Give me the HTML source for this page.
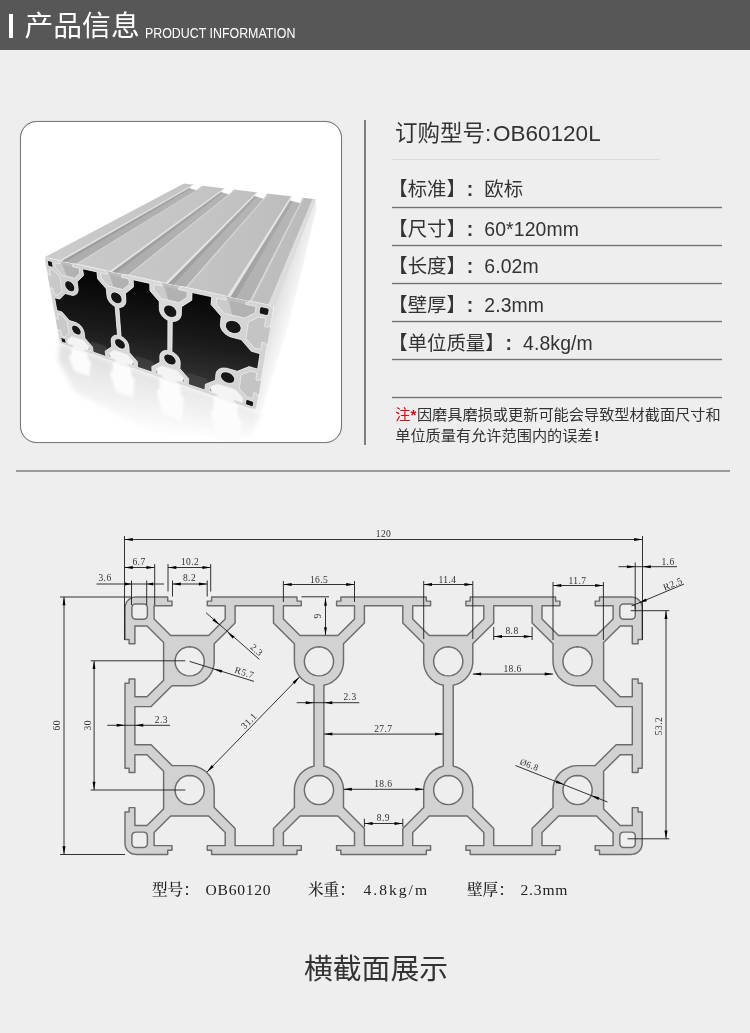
<!DOCTYPE html>
<html lang="zh-CN"><head><meta charset="utf-8"><title>产品信息 OB60120L</title>
<style>
html,body{margin:0;padding:0}
html{background:#eeeeee}
body{width:750px;height:1033px;position:relative;overflow:hidden;will-change:transform;font-family:"Liberation Sans","Noto Sans CJK SC",sans-serif;color:#333}
.abs{position:absolute}
.hdr{left:0;top:0;width:750px;height:50px;background:#575757}
.bar{left:9px;top:14px;width:4px;height:24px;background:#fff}
.h1{left:24.5px;top:6.3px;font-size:28.8px;line-height:40px;color:#fff;font-weight:400;white-space:nowrap}
.h2{left:145px;top:22.5px;font-size:14.5px;line-height:20px;color:#fff;white-space:nowrap;transform-origin:0 50%;transform:scaleX(0.855)}
.card{left:20px;top:121px;width:320px;height:320px;border:1px solid #787878;border-radius:17px;background:#fff;overflow:hidden;box-shadow:0 0 0.8px rgba(0,0,0,.45)}
.vr{left:364px;top:120px;width:1.5px;height:325px;background:#7e7e7e}
.ttl{left:395px;top:118px;font-size:22.5px;line-height:32px;white-space:nowrap;font-weight:400;color:#333}
.ttl span{margin-left:1.8px}
.hr0{left:392px;top:159px;width:268px;height:1px;background:#dcdcdc}
.row{left:388.3px;font-size:19.4px;line-height:28px;white-space:nowrap;font-weight:400;color:#333}
.row i{font-style:normal;display:inline-block;width:1em}
.row u{text-decoration:none;display:inline-block;width:18.4px;text-indent:0.8px;font-weight:700}
.row s{text-decoration:none;letter-spacing:0.12px}
.hr{left:392px;width:330.4px;height:3px;background:linear-gradient(to bottom,#d9d9d9 0 1px,#717171 1px 2px,#d4d4d4 2px 3px)}
.note{left:395.2px;top:403.5px;width:340px;font-size:15.2px;line-height:21.5px;color:#333;white-space:nowrap}
.note b{color:#e60012;font-weight:400}
.note b i{font-style:normal;font-weight:700;margin-right:0.6px}
.note em{font-style:normal;font-weight:700;margin-left:1.5px}
.sep{left:16px;top:469.5px;width:714px;height:2px;background:#9a9a9a}
.cap{top:879px;font-family:"Liberation Serif","Noto Serif CJK SC",serif;font-size:15.6px;line-height:22px;color:#222;white-space:nowrap;font-weight:500}
.foot{left:0;width:752px;top:948.5px;text-align:center;font-size:28.8px;line-height:40px;font-weight:400;color:#333}
</style></head><body>
<div class="abs hdr"></div><div class="abs bar"></div>
<div class="abs h1">产品信息</div><div class="abs h2">PRODUCT INFORMATION</div>
<div class="abs card"><svg class="abs" style="left:0;top:0" width="320" height="320" viewBox="21 122 320 320"><defs>
<linearGradient id="gTop" gradientUnits="userSpaceOnUse" x1="60" y1="250" x2="310" y2="230"><stop offset="0" stop-color="#cbcbcb"/><stop offset="0.55" stop-color="#c1c1c1"/><stop offset="1" stop-color="#b3b3b3"/></linearGradient>
<linearGradient id="gFade" gradientUnits="userSpaceOnUse" x1="120" y1="270" x2="250" y2="190"><stop offset="0" stop-color="#fff" stop-opacity="0"/><stop offset="1" stop-color="#fff" stop-opacity="0.10"/></linearGradient>
<linearGradient id="gSide" gradientUnits="userSpaceOnUse" x1="270" y1="300" x2="296" y2="308"><stop offset="0" stop-color="#d6d6d6"/><stop offset="0.45" stop-color="#e8e8e8"/><stop offset="1" stop-color="#fcfcfc"/></linearGradient>
<linearGradient id="gDark" gradientUnits="userSpaceOnUse" x1="150" y1="285" x2="135" y2="385"><stop offset="0" stop-color="#060606"/><stop offset="0.5" stop-color="#1b1b1b"/><stop offset="1" stop-color="#3a3a3a"/></linearGradient>
<linearGradient id="gRef" gradientUnits="userSpaceOnUse" x1="150" y1="370" x2="140" y2="432"><stop offset="0" stop-color="#e2e2e2"/><stop offset="1" stop-color="#ffffff"/></linearGradient>
<filter id="bl2"><feGaussianBlur stdDeviation="0.8"/></filter>
<filter id="bl" x="-10%" y="-10%" width="120%" height="120%"><feGaussianBlur stdDeviation="2.5"/></filter>
<linearGradient id="gMat" gradientUnits="userSpaceOnUse" x1="50" y1="300" x2="270" y2="350"><stop offset="0" stop-color="#cfcfcf"/><stop offset="0.5" stop-color="#dadada"/><stop offset="1" stop-color="#d2d2d2"/></linearGradient>
</defs>
<polygon points="60.0,343.3 256.0,410.5 261.0,414.0 250.0,436.0 150.0,432.0 75.0,392.0 58.0,360.0" fill="url(#gRef)" filter="url(#bl)"/>
<polygon points="71.4,347.2 87.3,352.7 88.3,360.1 91.3,361.6 89.3,376.6 74.4,371.1 68.4,356.2 71.4,354.7" fill="#fcfcfc" filter="url(#bl2)"/>
<polygon points="112.7,361.4 130.7,367.5 131.7,377.0 134.7,378.9 132.7,397.7 115.7,391.5 109.7,372.7 112.7,370.8" fill="#fcfcfc" filter="url(#bl2)"/>
<polygon points="159.6,377.4 180.2,384.5 181.2,395.9 184.2,398.2 182.2,420.9 162.6,413.8 156.6,391.1 159.6,388.8" fill="#fcfcfc" filter="url(#bl2)"/>
<polygon points="213.4,395.9 237.2,404.0 238.2,417.4 241.2,420.0 239.2,446.7 216.4,438.5 210.4,411.9 213.4,409.2" fill="#fcfcfc" filter="url(#bl2)"/>
<polygon points="274.0,306.0 315.5,199.3 316.3,209.0 289.0,324.0 262.0,411.5 256.0,410.5" fill="url(#gSide)" />
<polygon points="44.4,257.3 274.0,306.0 315.5,199.3 184.0,183.5" fill="url(#gTop)" />
<polygon points="61.6,261.0 75.8,264.0 203.6,185.9 194.8,184.8" fill="#adadad" />
<polygon points="61.6,261.0 65.6,261.8 197.3,185.1 194.8,184.8" fill="#9d9d9d" />
<polygon points="59.2,260.4 61.6,261.0 194.8,184.8 193.3,184.6" fill="#e3e3e3" />
<polygon points="75.8,264.0 77.1,264.2 204.4,185.9 203.6,185.9" fill="#d6d6d6" />
<polygon points="194.8,183.8 203.6,184.9 196.3,190.3 189.1,188.0" fill="#fdfdfd" />
<polygon points="112.2,271.7 127.9,275.0 234.9,189.6 225.6,188.5" fill="#adadad" />
<polygon points="112.2,271.7 116.7,272.6 228.3,188.8 225.6,188.5" fill="#9d9d9d" />
<polygon points="109.6,271.1 112.2,271.7 225.6,188.5 224.0,188.3" fill="#e3e3e3" />
<polygon points="127.9,275.0 129.3,275.3 235.7,189.7 234.9,189.6" fill="#d6d6d6" />
<polygon points="225.6,187.5 234.9,188.6 228.9,194.4 220.9,192.0" fill="#fdfdfd" />
<polygon points="168.2,283.6 185.6,287.3 267.9,193.6 258.1,192.4" fill="#adadad" />
<polygon points="168.2,283.6 173.2,284.6 260.9,192.7 258.1,192.4" fill="#9d9d9d" />
<polygon points="165.3,282.9 168.2,283.6 258.1,192.4 256.5,192.2" fill="#e3e3e3" />
<polygon points="185.6,287.3 187.2,287.6 268.8,193.7 267.9,193.6" fill="#d6d6d6" />
<polygon points="258.1,191.4 267.9,192.6 263.4,198.7 254.5,196.1" fill="#fdfdfd" />
<polygon points="230.5,296.8 249.9,300.9 302.9,197.8 292.5,196.5" fill="#adadad" />
<polygon points="230.5,296.8 236.1,298.0 295.5,196.9 292.5,196.5" fill="#9d9d9d" />
<polygon points="227.3,296.1 230.5,296.8 292.5,196.5 290.8,196.3" fill="#e3e3e3" />
<polygon points="249.9,300.9 251.8,301.3 303.9,197.9 302.9,197.8" fill="#d6d6d6" />
<polygon points="292.5,195.5 302.9,196.8 300.1,203.3 290.1,200.5" fill="#fdfdfd" />
<polygon points="268.1,304.8 274.0,306.0 315.5,199.3 312.4,198.9" fill="#d9d9d9" />
<polygon points="44.4,257.3 274.0,306.0 315.5,199.3 184.0,183.5" fill="url(#gFade)" />
<polygon points="44.9,257.9 273.1,306.5 255.5,409.6 60.3,342.8" fill="#bdbdbd" />
<polygon points="74.0,348.7 73.5,345.4 68.1,343.6 67.4,339.7 71.7,336.4 83.5,340.2 89.5,347.1 90.0,351.0 84.4,349.1 84.8,352.4" fill="#f4f4f4" />
<polygon points="54.5,262.6 55.4,267.7 61.9,275.2 74.8,278.2 79.8,273.2 79.1,268.0" fill="#b2b2b2" />
<polygon points="54.5,262.6 55.4,267.7 61.9,275.2 66.8,276.3 62.1,264.3" fill="#cbcbcb" />
<polygon points="115.5,363.0 115.2,359.5 109.1,357.5 108.7,353.5 113.9,350.1 127.4,354.5 133.8,361.8 134.0,365.9 127.6,363.7 127.8,367.2" fill="#f4f4f4" />
<polygon points="100.6,272.7 101.2,278.0 108.1,286.0 123.0,289.5 129.3,284.3 129.0,278.8" fill="#b2b2b2" />
<polygon points="100.6,272.7 101.2,278.0 108.1,286.0 113.8,287.4 109.4,274.6" fill="#cbcbcb" />
<polygon points="162.8,379.2 162.8,375.7 155.8,373.3 155.7,369.1 162.2,365.9 177.6,370.9 184.4,378.7 184.3,383.0 176.9,380.5 176.8,384.1" fill="#f4f4f4" />
<polygon points="154.1,284.3 154.2,289.9 161.7,298.6 179.0,302.6 187.1,297.3 187.3,291.5" fill="#b2b2b2" />
<polygon points="154.1,284.3 154.2,289.9 161.7,298.6 168.3,300.1 164.3,286.5" fill="#cbcbcb" />
<polygon points="217.0,397.9 217.3,394.2 209.3,391.4 209.7,387.1 217.7,384.0 235.6,389.8 242.9,398.2 242.2,402.6 233.7,399.7 233.2,403.4" fill="#f4f4f4" />
<polygon points="216.7,297.9 216.3,303.9 224.3,313.3 244.8,318.1 255.2,312.7 256.1,306.4" fill="#b2b2b2" />
<polygon points="216.7,297.9 216.3,303.9 224.3,313.3 232.1,315.1 228.8,300.5" fill="#cbcbcb" />
<polygon points="47.6,274.7 50.7,275.5 49.6,268.9 53.5,269.8 60.0,277.3 62.2,290.9 57.8,295.3 54.0,294.3 52.9,288.1 49.8,287.3" fill="#c9c9c9" />
<polygon points="270.2,328.0 264.5,326.6 265.8,318.5 258.8,316.9 248.3,322.2 246.1,338.6 254.1,347.9 260.7,349.6 261.9,342.1 267.5,343.6" fill="#c4c4c4" />
<polygon points="55.5,318.4 58.5,319.3 57.5,313.6 61.2,314.7 67.2,321.6 69.1,333.5 64.9,336.9 61.4,335.7 60.4,330.3 57.5,329.3" fill="#c9c9c9" />
<polygon points="261.0,381.2 255.8,379.7 256.9,372.9 250.6,371.0 241.2,374.7 239.4,388.4 246.7,396.9 252.7,398.9 253.7,392.6 258.8,394.2" fill="#c4c4c4" />
<path d="M82.7,268.8 96.9,271.9 97.6,278.8 106.3,288.8 106.9,295.6 107.1,296.9 107.5,298.2 108,299.5 108.7,300.7 109.5,301.9 110.5,303.1 111.5,304.1 112.7,305 113.9,305.8 115.1,306.5 117.5,335.3 116.4,335.2 115.3,335.3 114.3,335.6 113.4,336 112.7,336.6 112.1,337.3 111.6,338.1 111.3,339 111.2,340 111.2,341.1 111.7,346.8 105.2,351.1 105.8,356.4 93.2,352.1 92.5,346.9 84.9,338.2 84.2,332.6 83.9,331.4 83.4,330.1 82.8,328.8 82,327.5 81.1,326.3 80,325.2 78.8,324.2 77.6,323.4 76.4,322.8 75.1,322.3 69.5,320.6 61.9,311.9 56.9,310.4 54.6,297.7 59.7,299 65.2,293.6 71,295.1 72.3,295.4 73.5,295.4 74.6,295.1 75.6,294.7 76.5,294.1 77.2,293.2 77.7,292.2 78,291.1 78.2,289.8 78.1,288.4 77.2,281.8 83.5,275.6ZM133.2,279.8 149.7,283.4 149.9,290.7 159.2,301.4 159.3,308.6 159.4,310 159.7,311.3 160.2,312.7 160.9,314.1 161.8,315.4 162.8,316.6 163.9,317.7 165.2,318.7 166.5,319.6 167.9,320.3 167.8,350.5 166.5,350.4 165.2,350.5 164,350.7 163,351.2 162,351.7 161.2,352.4 160.6,353.3 160.2,354.2 159.9,355.3 159.8,356.4 159.9,362.3 151.8,366.5 152,372.1 137.6,367.2 137.4,361.7 129.3,352.5 128.9,346.7 128.7,345.5 128.4,344.3 127.9,343.2 127.3,342 126.5,340.8 125.6,339.7 124.6,338.7 123.5,337.8 122.3,337 121.1,336.4 118.9,307.5 120.1,307.5 121.3,307.3 122.3,306.9 123.3,306.4 124.1,305.7 124.8,304.8 125.4,303.9 125.7,302.8 125.9,301.6 125.9,300.3 125.5,293.4 133.5,287ZM211,304.6 221.1,316.2 220.4,323.8 220.4,325.5 220.7,327.2 221.3,328.8 222.2,330.5 223.4,332 224.8,333.4 226.4,334.7 228.2,335.8 230,336.7 232,337.3 241.3,339.7 251.3,351.3 260,353.7 257.6,369.1 249.1,366.6 237.3,371.3 228.6,368.7 226.7,368.2 224.8,368 223,368 221.4,368.3 219.9,368.8 218.6,369.5 217.5,370.4 216.7,371.4 216.2,372.7 215.9,374 215.4,380.2 205.3,384.3 204.9,390 188.4,384.4 188.7,378.7 180,368.8 180.2,362.8 180.1,361.6 179.9,360.3 179.4,359.1 178.8,357.8 178,356.6 177,355.4 175.9,354.4 174.7,353.4 173.4,352.5 172,351.8 172.3,321.5 173.7,321.5 175.1,321.3 176.4,321 177.6,320.4 178.7,319.7 179.6,318.9 180.3,317.8 180.9,316.7 181.2,315.4 181.4,314.1 181.5,306.8 191.8,300.2 192.1,292.6 211.6,296.8Z" fill="url(#gDark)"/>
<polygon points="88.2,349.9 110.9,357.6 105.5,346.0 91.1,341.3" fill="#4a4a4a" opacity="0.55"/>
<polygon points="132.0,364.7 157.9,373.4 152.6,361.3 136.2,356.0" fill="#4a4a4a" opacity="0.55"/>
<polygon points="182.1,381.6 211.8,391.7 206.8,378.8 187.9,372.7" fill="#4a4a4a" opacity="0.55"/>
<path d="M74.7,287.5 74.7,288.7 74.5,289.7 74.1,290.6 73.4,291.2 72.6,291.6 71.6,291.7 70.5,291.6 69.4,291.2 68.3,290.5 67.3,289.7 66.4,288.6 65.7,287.5 65.1,286.3 64.8,285.1 64.8,283.9 65,282.9 65.4,282 66,281.4 66.8,280.9 67.8,280.8 68.9,280.9 70,281.3 71.1,282 72.2,282.9 73.1,283.9 73.8,285.1 74.4,286.3ZM81,331.6 81,332.6 80.8,333.5 80.4,334.2 79.7,334.7 78.9,334.9 78,335 77,334.7 76,334.3 74.9,333.7 74,332.8 73.1,331.9 72.5,330.8 72,329.8 71.7,328.7 71.7,327.7 71.8,326.8 72.3,326.1 72.9,325.6 73.7,325.3 74.6,325.3 75.6,325.5 76.7,325.9 77.7,326.6 78.7,327.4 79.5,328.4 80.2,329.4 80.7,330.5ZM122,299.3 121.9,300.5 121.6,301.6 121,302.5 120.2,303.2 119.1,303.5 118,303.7 116.7,303.5 115.5,303 114.3,302.3 113.2,301.4 112.2,300.3 111.4,299.1 110.9,297.8 110.7,296.5 110.7,295.3 111,294.2 111.6,293.3 112.4,292.6 113.4,292.2 114.6,292.1 115.8,292.2 117.1,292.7 118.4,293.4 119.5,294.3 120.5,295.5 121.3,296.7 121.8,298ZM125.3,345.5 125.2,346.6 124.9,347.5 124.3,348.2 123.5,348.7 122.6,348.9 121.5,348.9 120.3,348.6 119.1,348.1 118,347.4 117,346.6 116.1,345.5 115.4,344.4 114.9,343.3 114.7,342.2 114.7,341.2 115,340.3 115.6,339.5 116.3,339 117.3,338.8 118.4,338.7 119.6,339 120.8,339.5 121.9,340.2 123,341.1 123.9,342.1 124.6,343.2 125.1,344.4ZM176.8,313 176.6,314.2 176.1,315.4 175.3,316.3 174.2,317 173,317.3 171.6,317.4 170.1,317.2 168.7,316.7 167.3,315.9 166.1,314.9 165.1,313.7 164.3,312.4 163.8,311 163.6,309.7 163.8,308.4 164.3,307.3 165,306.3 166.1,305.6 167.3,305.2 168.7,305.1 170.2,305.3 171.7,305.8 173.1,306.6 174.3,307.6 175.4,308.9 176.2,310.2 176.7,311.6ZM176,361.4 175.8,362.5 175.3,363.4 174.6,364.2 173.6,364.6 172.5,364.9 171.2,364.8 169.8,364.5 168.5,364 167.2,363.2 166.1,362.2 165.2,361.2 164.5,360 164,358.8 163.9,357.6 164,356.6 164.4,355.6 165.2,354.9 166.1,354.4 167.3,354.1 168.5,354.2 169.9,354.4 171.3,355 172.6,355.8 173.7,356.7 174.7,357.9 175.4,359.1 175.9,360.3ZM241,328.9 240.6,330.3 239.9,331.5 238.8,332.4 237.4,333.1 235.9,333.4 234.2,333.5 232.5,333.2 230.8,332.6 229.2,331.7 227.9,330.6 226.8,329.4 226,328 225.5,326.5 225.5,325.1 225.8,323.7 226.5,322.6 227.5,321.6 228.9,320.9 230.4,320.5 232.1,320.4 233.9,320.7 235.6,321.2 237.2,322.1 238.6,323.2 239.7,324.6 240.5,326 241,327.5ZM234.7,379.9 234.3,381 233.7,381.9 232.7,382.7 231.5,383.1 230.1,383.3 228.6,383.2 227,382.9 225.5,382.2 224,381.4 222.8,380.3 221.8,379.2 221,377.9 220.6,376.7 220.6,375.4 220.9,374.3 221.5,373.4 222.4,372.6 223.6,372.1 225,371.9 226.6,372 228.2,372.3 229.7,373 231.2,373.8 232.5,374.9 233.5,376.1 234.2,377.4 234.6,378.6ZM47.4,261.9 47.4,261.3 47.6,260.9 47.9,260.7 48.4,260.7 50.9,261.2 51.4,261.4 51.9,261.9 52.2,262.4 52.4,263 52.9,265.9 52.9,266.5 52.7,266.9 52.4,267.1 51.9,267.1 49.4,266.5 48.9,266.3 48.4,265.9 48.1,265.4 47.9,264.8ZM259.8,308.3 260.1,307.6 260.7,307.1 261.5,306.9 262.4,306.9 267,307.9 267.8,308.3 268.5,308.8 268.9,309.5 269,310.3 268.4,313.9 268.1,314.6 267.5,315.1 266.7,315.3 265.8,315.3 261.2,314.2 260.4,313.9 259.7,313.3 259.3,312.6 259.2,311.9ZM61,338.5 61,338.1 61.2,337.8 61.5,337.7 62,337.8 64.3,338.5 64.7,338.8 65.1,339.2 65.5,339.6 65.6,340.1 66,342.4 66,342.8 65.8,343.1 65.5,343.2 65.1,343.1 62.8,342.4 62.3,342.1 61.9,341.8 61.6,341.3 61.4,340.8ZM246,400.5 246.2,400 246.7,399.7 247.3,399.6 248.1,399.8 251.9,401 252.6,401.4 253.2,401.9 253.6,402.5 253.6,403 253.2,405.7 253,406.1 252.5,406.4 251.8,406.5 251.1,406.4 247.3,405.1 246.5,404.7 246,404.2 245.6,403.7 245.6,403.1Z" fill="#161616"/>
<path d="M45.1,261.4 45.1,260.4 45.2,259.4 45.6,258.7 46.2,258.2 47,258 47.9,258 58.5,260.3 58.8,261.9 60.2,262.2 60.5,264 54.5,262.7 55.4,267.7 61.9,275.2 74.8,278.2 79.8,273.2 79.1,268.1 72.7,266.7 72.5,264.8 74,265.1 73.8,263.5 105.5,270.3 105.7,271.9 107.4,272.3 107.6,274.2 100.6,272.7 101.2,278 108.1,286 123,289.5 129.3,284.3 129,278.9 121.7,277.3 121.5,275.3 123.3,275.7 123.2,274 160.2,281.9 160.2,283.6 162.1,284.1 162.2,286.1 154.1,284.4 154.2,289.9 161.7,298.6 179,302.6 187.1,297.3 187.3,291.6 178.6,289.7 178.7,287.6 180.7,288 180.8,286.2 224.3,295.5 224.2,297.4 226.5,297.9 226.3,300 216.7,298 216.3,303.9 224.3,313.3 244.8,318.1 255.2,312.7 256,306.5 245.8,304.3 246.1,302.1 248.5,302.6 248.8,300.7 267.5,304.6 269.1,305.2 270.6,306 271.8,307.1 272.7,308.4 273.1,309.8 273.1,311.2 270.5,326 268.1,325.5 267.8,327.4 264.5,326.6 265.8,318.5 258.8,316.9 248.3,322.2 246.1,338.6 254.1,347.9 260.7,349.6 261.9,342.1 265.2,343 264.9,344.8 267.2,345.4 261.3,379.6 259.2,379 258.9,380.6 255.8,379.7 256.9,372.9 250.6,371 241.2,374.7 239.4,388.4 246.7,396.9 252.7,398.9 253.7,392.6 256.7,393.5 256.5,395.1 258.5,395.7 256.6,406.8 256.3,407.7 255.6,408.4 254.6,408.9 253.4,409.1 252.1,409 250.7,408.7 235.3,403.4 235.5,402.1 233.5,401.4 233.7,399.8 242.2,402.7 242.9,398.2 235.6,389.8 217.7,384 209.7,387.1 209.3,391.5 217.3,394.2 217.2,395.8 215.2,395.1 215.1,396.5 178.6,384 178.6,382.6 176.9,382 176.9,380.5 184.3,383 184.4,378.7 177.6,370.9 162.2,365.9 155.7,369.1 155.8,373.4 162.8,375.7 162.8,377.2 161.1,376.7 161.1,378 129.3,367.1 129.2,365.8 127.7,365.3 127.6,363.8 134,366 133.8,361.8 127.4,354.5 113.9,350.1 108.7,353.5 109.1,357.5 115.2,359.6 115.4,361.1 113.9,360.6 114,361.8 86.1,352.2 85.9,351 84.6,350.6 84.4,349.1 90,351.1 89.5,347.1 83.5,340.2 71.7,336.4 67.4,339.7 68.1,343.6 73.5,345.5 73.7,346.9 72.4,346.4 72.6,347.6 63.1,344.4 62.3,344 61.5,343.4 60.7,342.7 60.1,341.9 59.7,341 59.4,340.2 57.7,330.7 58.9,331 58.7,329.7 60.4,330.3 61.4,335.7 64.9,336.9 69.1,333.5 67.2,321.6 61.2,314.7 57.5,313.6 58.5,319.3 56.7,318.8 56.5,317.4 55.2,317 50.1,288.8 51.4,289.1 51.1,287.6 52.9,288.1 54,294.3 57.8,295.3 62.2,290.9 60,277.3 53.5,269.8 49.6,268.9 50.7,275.5 48.9,275.1 48.6,273.5 47.3,273.2ZM82.7,268.8 96.9,271.9 97.6,278.8 106.3,288.8 106.9,295.6 107.1,296.9 107.5,298.2 108,299.5 108.7,300.7 109.5,301.9 110.5,303.1 111.5,304.1 112.7,305 113.9,305.8 115.1,306.5 117.5,335.3 116.4,335.2 115.3,335.3 114.3,335.6 113.4,336 112.7,336.6 112.1,337.3 111.6,338.1 111.3,339 111.2,340 111.2,341.1 111.7,346.8 105.2,351.1 105.8,356.4 93.2,352.1 92.5,346.9 84.9,338.2 84.2,332.6 83.9,331.4 83.4,330.1 82.8,328.8 82,327.5 81.1,326.3 80,325.2 78.8,324.2 77.6,323.4 76.4,322.8 75.1,322.3 69.5,320.6 61.9,311.9 56.9,310.4 54.6,297.7 59.7,299 65.2,293.6 71,295.1 72.3,295.4 73.5,295.4 74.6,295.1 75.6,294.7 76.5,294.1 77.2,293.2 77.7,292.2 78,291.1 78.2,289.8 78.1,288.4 77.2,281.8 83.5,275.6ZM133.2,279.8 149.7,283.4 149.9,290.7 159.2,301.4 159.3,308.6 159.4,310 159.7,311.3 160.2,312.7 160.9,314.1 161.8,315.4 162.8,316.6 163.9,317.7 165.2,318.7 166.5,319.6 167.9,320.3 167.8,350.5 166.5,350.4 165.2,350.5 164,350.7 163,351.2 162,351.7 161.2,352.4 160.6,353.3 160.2,354.2 159.9,355.3 159.8,356.4 159.9,362.3 151.8,366.5 152,372.1 137.6,367.2 137.4,361.7 129.3,352.5 128.9,346.7 128.7,345.5 128.4,344.3 127.9,343.2 127.3,342 126.5,340.8 125.6,339.7 124.6,338.7 123.5,337.8 122.3,337 121.1,336.4 118.9,307.5 120.1,307.5 121.3,307.3 122.3,306.9 123.3,306.4 124.1,305.7 124.8,304.8 125.4,303.9 125.7,302.8 125.9,301.6 125.9,300.3 125.5,293.4 133.5,287ZM211,304.6 221.1,316.2 220.4,323.8 220.4,325.5 220.7,327.2 221.3,328.8 222.2,330.5 223.4,332 224.8,333.4 226.4,334.7 228.2,335.8 230,336.7 232,337.3 241.3,339.7 251.3,351.3 260,353.7 257.6,369.1 249.1,366.6 237.3,371.3 228.6,368.7 226.7,368.2 224.8,368 223,368 221.4,368.3 219.9,368.8 218.6,369.5 217.5,370.4 216.7,371.4 216.2,372.7 215.9,374 215.4,380.2 205.3,384.3 204.9,390 188.4,384.4 188.7,378.7 180,368.8 180.2,362.8 180.1,361.6 179.9,360.3 179.4,359.1 178.8,357.8 178,356.6 177,355.4 175.9,354.4 174.7,353.4 173.4,352.5 172,351.8 172.3,321.5 173.7,321.5 175.1,321.3 176.4,321 177.6,320.4 178.7,319.7 179.6,318.9 180.3,317.8 180.9,316.7 181.2,315.4 181.4,314.1 181.5,306.8 191.8,300.2 192.1,292.6 211.6,296.8ZM74.7,287.5 74.7,288.7 74.5,289.7 74.1,290.6 73.4,291.2 72.6,291.6 71.6,291.7 70.5,291.6 69.4,291.2 68.3,290.5 67.3,289.7 66.4,288.6 65.7,287.5 65.1,286.3 64.8,285.1 64.8,283.9 65,282.9 65.4,282 66,281.4 66.8,280.9 67.8,280.8 68.9,280.9 70,281.3 71.1,282 72.2,282.9 73.1,283.9 73.8,285.1 74.4,286.3ZM81,331.6 81,332.6 80.8,333.5 80.4,334.2 79.7,334.7 78.9,334.9 78,335 77,334.7 76,334.3 74.9,333.7 74,332.8 73.1,331.9 72.5,330.8 72,329.8 71.7,328.7 71.7,327.7 71.8,326.8 72.3,326.1 72.9,325.6 73.7,325.3 74.6,325.3 75.6,325.5 76.7,325.9 77.7,326.6 78.7,327.4 79.5,328.4 80.2,329.4 80.7,330.5ZM122,299.3 121.9,300.5 121.6,301.6 121,302.5 120.2,303.2 119.1,303.5 118,303.7 116.7,303.5 115.5,303 114.3,302.3 113.2,301.4 112.2,300.3 111.4,299.1 110.9,297.8 110.7,296.5 110.7,295.3 111,294.2 111.6,293.3 112.4,292.6 113.4,292.2 114.6,292.1 115.8,292.2 117.1,292.7 118.4,293.4 119.5,294.3 120.5,295.5 121.3,296.7 121.8,298ZM125.3,345.5 125.2,346.6 124.9,347.5 124.3,348.2 123.5,348.7 122.6,348.9 121.5,348.9 120.3,348.6 119.1,348.1 118,347.4 117,346.6 116.1,345.5 115.4,344.4 114.9,343.3 114.7,342.2 114.7,341.2 115,340.3 115.6,339.5 116.3,339 117.3,338.8 118.4,338.7 119.6,339 120.8,339.5 121.9,340.2 123,341.1 123.9,342.1 124.6,343.2 125.1,344.4ZM176.8,313 176.6,314.2 176.1,315.4 175.3,316.3 174.2,317 173,317.3 171.6,317.4 170.1,317.2 168.7,316.7 167.3,315.9 166.1,314.9 165.1,313.7 164.3,312.4 163.8,311 163.6,309.7 163.8,308.4 164.3,307.3 165,306.3 166.1,305.6 167.3,305.2 168.7,305.1 170.2,305.3 171.7,305.8 173.1,306.6 174.3,307.6 175.4,308.9 176.2,310.2 176.7,311.6ZM176,361.4 175.8,362.5 175.3,363.4 174.6,364.2 173.6,364.6 172.5,364.9 171.2,364.8 169.8,364.5 168.5,364 167.2,363.2 166.1,362.2 165.2,361.2 164.5,360 164,358.8 163.9,357.6 164,356.6 164.4,355.6 165.2,354.9 166.1,354.4 167.3,354.1 168.5,354.2 169.9,354.4 171.3,355 172.6,355.8 173.7,356.7 174.7,357.9 175.4,359.1 175.9,360.3ZM241,328.9 240.6,330.3 239.9,331.5 238.8,332.4 237.4,333.1 235.9,333.4 234.2,333.5 232.5,333.2 230.8,332.6 229.2,331.7 227.9,330.6 226.8,329.4 226,328 225.5,326.5 225.5,325.1 225.8,323.7 226.5,322.6 227.5,321.6 228.9,320.9 230.4,320.5 232.1,320.4 233.9,320.7 235.6,321.2 237.2,322.1 238.6,323.2 239.7,324.6 240.5,326 241,327.5ZM234.7,379.9 234.3,381 233.7,381.9 232.7,382.7 231.5,383.1 230.1,383.3 228.6,383.2 227,382.9 225.5,382.2 224,381.4 222.8,380.3 221.8,379.2 221,377.9 220.6,376.7 220.6,375.4 220.9,374.3 221.5,373.4 222.4,372.6 223.6,372.1 225,371.9 226.6,372 228.2,372.3 229.7,373 231.2,373.8 232.5,374.9 233.5,376.1 234.2,377.4 234.6,378.6ZM47.4,261.9 47.4,261.3 47.6,260.9 47.9,260.7 48.4,260.7 50.9,261.2 51.4,261.4 51.9,261.9 52.2,262.4 52.4,263 52.9,265.9 52.9,266.5 52.7,266.9 52.4,267.1 51.9,267.1 49.4,266.5 48.9,266.3 48.4,265.9 48.1,265.4 47.9,264.8ZM259.8,308.3 260.1,307.6 260.7,307.1 261.5,306.9 262.4,306.9 267,307.9 267.8,308.3 268.5,308.8 268.9,309.5 269,310.3 268.4,313.9 268.1,314.6 267.5,315.1 266.7,315.3 265.8,315.3 261.2,314.2 260.4,313.9 259.7,313.3 259.3,312.6 259.2,311.9ZM61,338.5 61,338.1 61.2,337.8 61.5,337.7 62,337.8 64.3,338.5 64.7,338.8 65.1,339.2 65.5,339.6 65.6,340.1 66,342.4 66,342.8 65.8,343.1 65.5,343.2 65.1,343.1 62.8,342.4 62.3,342.1 61.9,341.8 61.6,341.3 61.4,340.8ZM246,400.5 246.2,400 246.7,399.7 247.3,399.6 248.1,399.8 251.9,401 252.6,401.4 253.2,401.9 253.6,402.5 253.6,403 253.2,405.7 253,406.1 252.5,406.4 251.8,406.5 251.1,406.4 247.3,405.1 246.5,404.7 246,404.2 245.6,403.7 245.6,403.1Z" fill="url(#gMat)" fill-rule="evenodd" stroke="#f2f2f2" stroke-width="0.7" stroke-linejoin="round"/></svg></div>
<div class="abs vr"></div>
<div class="abs ttl">订购型号:<span>OB60120L</span></div>
<div class="abs hr0"></div>
<div class="abs row" style="top:175.2px"><i>【</i>标准<i>】</i><u>:</u>欧标</div><div class="abs hr" style="top:206px"></div>
<div class="abs row" style="top:214.8px"><i>【</i>尺寸<i>】</i><u>:</u><s>60*120mm</s></div><div class="abs hr" style="top:244px"></div>
<div class="abs row" style="top:252px"><i>【</i>长度<i>】</i><u>:</u><s>6.02m</s></div><div class="abs hr" style="top:282px"></div>
<div class="abs row" style="top:291px"><i>【</i>壁厚<i>】</i><u>:</u><s>2.3mm</s></div><div class="abs hr" style="top:320px"></div>
<div class="abs row" style="top:328.6px"><i>【</i>单位质量<i>】</i><u>:</u><s>4.8kg/m</s></div><div class="abs hr" style="top:358px"></div>
<div class="abs hr" style="top:396px"></div>
<div class="abs note"><b>注<i>*</i></b>因磨具磨损或更新可能会导致型材截面尺寸和<br>单位质量有允许范围内的误差<em>!</em></div>
<div class="abs sep"></div>
<svg class="abs" style="left:0;top:500px" width="750" height="380" viewBox="0 500 750 380" font-family="'Liberation Serif','Noto Serif CJK SC',serif" fill="#303030">
<path d="M125,607.7 125.4,604.9 126.4,602.4 128.2,600.1 130.4,598.4 133,597.4 135.8,597 167.7,597 167.7,601.1 172,601.1 172,605.8 154.1,605.8 154.1,618.9 170.7,635.4 208.6,635.4 225.2,618.9 225.2,605.8 207.3,605.8 207.3,601.1 211.6,601.1 211.6,597 297,597 297,601.1 301.3,601.1 301.3,605.8 283.4,605.8 283.4,618.9 300,635.4 337.9,635.4 354.5,618.9 354.5,605.8 336.6,605.8 336.6,601.1 340.9,601.1 340.9,597 426.3,597 426.3,601.1 430.6,601.1 430.6,605.8 412.7,605.8 412.7,618.9 429.3,635.4 467.2,635.4 483.8,618.9 483.8,605.8 465.9,605.8 465.9,601.1 470.2,601.1 470.2,597 555.6,597 555.6,601.1 559.9,601.1 559.9,605.8 542,605.8 542,618.9 558.6,635.4 596.5,635.4 613.1,618.9 613.1,605.8 595.2,605.8 595.2,601.1 599.5,601.1 599.5,597 631.4,597 634.2,597.4 636.8,598.4 639,600.1 640.8,602.4 641.8,604.9 642.2,607.7 642.2,639.5 638.1,639.5 638.1,643.8 632.3,643.8 632.3,626 620.2,626 603.6,642.5 603.6,680.2 620.2,696.7 632.3,696.7 632.3,678.9 638.1,678.9 638.1,683.2 642.2,683.2 642.2,768.2 638.1,768.2 638.1,772.5 632.3,772.5 632.3,754.7 620.2,754.7 603.6,771.2 603.6,808.9 620.2,825.4 632.3,825.4 632.3,807.6 638.1,807.6 638.1,811.9 642.2,811.9 642.2,843.7 641.8,846.5 640.8,849 639,851.3 636.8,853 634.2,854 631.4,854.4 599.5,854.4 599.5,850.3 595.2,850.3 595.2,845.6 613.1,845.6 613.1,832.5 596.5,816 558.6,816 542,832.5 542,845.6 559.9,845.6 559.9,850.3 555.6,850.3 555.6,854.4 470.2,854.4 470.2,850.3 465.9,850.3 465.9,845.6 483.8,845.6 483.8,832.5 467.2,816 429.3,816 412.7,832.5 412.7,845.6 430.6,845.6 430.6,850.3 426.3,850.3 426.3,854.4 340.9,854.4 340.9,850.3 336.6,850.3 336.6,845.6 354.5,845.6 354.5,832.5 337.9,816 300,816 283.4,832.5 283.4,845.6 301.3,845.6 301.3,850.3 297,850.3 297,854.4 211.6,854.4 211.6,850.3 207.3,850.3 207.3,845.6 225.2,845.6 225.2,832.5 208.6,816 170.7,816 154.1,832.5 154.1,845.6 172,845.6 172,850.3 167.7,850.3 167.7,854.4 135.8,854.4 133,854 130.4,853 128.2,851.3 126.4,849 125.4,846.5 125,843.7 125,811.9 129.1,811.9 129.1,807.6 134.9,807.6 134.9,825.4 147,825.4 163.6,808.9 163.6,771.2 147,754.7 134.9,754.7 134.9,772.5 129.1,772.5 129.1,768.2 125,768.2 125,683.2 129.1,683.2 129.1,678.9 134.9,678.9 134.9,696.7 147,696.7 163.6,680.2 163.6,642.5 147,626 134.9,626 134.9,643.8 129.1,643.8 129.1,639.5 125,639.5ZM235.1,605.8 273.5,605.8 273.5,623 294.4,643.8 294.4,661.4 294.6,664.7 295.3,668 296.4,671.1 298,674.1 299.9,676.8 302.2,679.2 304.8,681.3 307.7,683.1 310.8,684.4 314,685.3 314,766.1 310.8,767 307.7,768.3 304.8,770.1 302.2,772.2 299.9,774.6 298,777.3 296.4,780.3 295.3,783.4 294.6,786.7 294.4,790 294.4,807.6 273.5,828.4 273.5,845.6 235.1,845.6 235.1,828.4 214.2,807.6 214.2,790 213.9,786.2 213,782.5 211.5,778.9 209.5,775.7 207,772.8 204.1,770.3 200.8,768.3 197.2,766.8 193.5,765.9 189.6,765.6 172,765.6 151.1,744.8 134.9,744.8 134.9,706.6 151.1,706.6 172,685.8 189.6,685.8 193.5,685.5 197.2,684.6 200.8,683.1 204.1,681.1 207,678.6 209.5,675.7 211.5,672.5 213,668.9 213.9,665.2 214.2,661.4 214.2,643.8 235.1,623ZM364.4,605.8 402.8,605.8 402.8,623 423.7,643.8 423.7,661.4 423.9,664.7 424.6,668 425.7,671.1 427.3,674.1 429.2,676.8 431.5,679.2 434.1,681.3 437,683.1 440.1,684.4 443.3,685.3 443.3,766.1 440.1,767 437,768.3 434.1,770.1 431.5,772.2 429.2,774.6 427.3,777.3 425.7,780.3 424.6,783.4 423.9,786.7 423.7,790 423.7,807.6 402.8,828.4 402.8,845.6 364.4,845.6 364.4,828.4 343.5,807.6 343.5,790 343.3,786.7 342.6,783.4 341.5,780.3 339.9,777.3 338,774.6 335.7,772.2 333.1,770.1 330.2,768.3 327.1,767 323.9,766.1 323.9,685.3 327.1,684.4 330.2,683.1 333.1,681.3 335.7,679.2 338,676.8 339.9,674.1 341.5,671.1 342.6,668 343.3,664.7 343.5,661.4 343.5,643.8 364.4,623ZM532.1,623 553,643.8 553,661.4 553.3,665.2 554.2,668.9 555.7,672.5 557.7,675.7 560.2,678.6 563.1,681.1 566.4,683.1 570,684.6 573.7,685.5 577.5,685.8 595.2,685.8 616.1,706.6 632.3,706.6 632.3,744.8 616.1,744.8 595.2,765.6 577.5,765.6 573.7,765.9 570,766.8 566.4,768.3 563.1,770.3 560.2,772.8 557.7,775.7 555.7,778.9 554.2,782.5 553.3,786.2 553,790 553,807.6 532.1,828.4 532.1,845.6 493.7,845.6 493.7,828.4 472.8,807.6 472.8,790 472.6,786.7 471.9,783.4 470.8,780.3 469.2,777.3 467.3,774.6 465,772.2 462.4,770.1 459.5,768.3 456.4,767 453.2,766.1 453.2,685.3 456.4,684.4 459.5,683.1 462.4,681.3 465,679.2 467.3,676.8 469.2,674.1 470.8,671.1 471.9,668 472.6,664.7 472.8,661.4 472.8,643.8 493.7,623 493.7,605.8 532.1,605.8ZM204.3,661.4 203.9,664.6 202.9,667.7 201.1,670.4 198.8,672.8 196,674.5 192.9,675.6 189.6,675.9 186.4,675.6 183.3,674.5 180.5,672.8 178.2,670.4 176.4,667.7 175.4,664.6 175,661.4 175.4,658.1 176.4,655 178.2,652.3 180.5,649.9 183.3,648.2 186.4,647.1 189.6,646.8 192.9,647.1 196,648.2 198.8,649.9 201.1,652.3 202.9,655 203.9,658.1ZM204.3,790 203.9,793.3 202.9,796.4 201.1,799.1 198.8,801.5 196,803.2 192.9,804.3 189.6,804.6 186.4,804.3 183.3,803.2 180.5,801.5 178.2,799.1 176.4,796.4 175.4,793.3 175,790 175.4,786.8 176.4,783.7 178.2,781 180.5,778.6 183.3,776.9 186.4,775.8 189.6,775.5 192.9,775.8 196,776.9 198.8,778.6 201.1,781 202.9,783.7 203.9,786.8ZM333.6,661.4 333.2,664.6 332.2,667.7 330.4,670.4 328.1,672.8 325.3,674.5 322.2,675.6 318.9,675.9 315.7,675.6 312.6,674.5 309.8,672.8 307.5,670.4 305.7,667.7 304.7,664.6 304.3,661.4 304.7,658.1 305.7,655 307.5,652.3 309.8,649.9 312.6,648.2 315.7,647.1 318.9,646.8 322.2,647.1 325.3,648.2 328.1,649.9 330.4,652.3 332.2,655 333.2,658.1ZM333.6,790 333.2,793.3 332.2,796.4 330.4,799.1 328.1,801.5 325.3,803.2 322.2,804.3 318.9,804.6 315.7,804.3 312.6,803.2 309.8,801.5 307.5,799.1 305.7,796.4 304.7,793.3 304.3,790 304.7,786.8 305.7,783.7 307.5,781 309.8,778.6 312.6,776.9 315.7,775.8 318.9,775.5 322.2,775.8 325.3,776.9 328.1,778.6 330.4,781 332.2,783.7 333.2,786.8ZM462.9,661.4 462.5,664.6 461.5,667.7 459.7,670.4 457.4,672.8 454.6,674.5 451.5,675.6 448.2,675.9 445,675.6 441.9,674.5 439.1,672.8 436.8,670.4 435,667.7 434,664.6 433.6,661.4 434,658.1 435,655 436.8,652.3 439.1,649.9 441.9,648.2 445,647.1 448.2,646.8 451.5,647.1 454.6,648.2 457.4,649.9 459.7,652.3 461.5,655 462.5,658.1ZM462.9,790 462.5,793.3 461.5,796.4 459.7,799.1 457.4,801.5 454.6,803.2 451.5,804.3 448.2,804.6 445,804.3 441.9,803.2 439.1,801.5 436.8,799.1 435,796.4 434,793.3 433.6,790 434,786.8 435,783.7 436.8,781 439.1,778.6 441.9,776.9 445,775.8 448.2,775.5 451.5,775.8 454.6,776.9 457.4,778.6 459.7,781 461.5,783.7 462.5,786.8ZM592.2,661.4 591.8,664.6 590.8,667.7 589,670.4 586.7,672.8 583.9,674.5 580.8,675.6 577.5,675.9 574.3,675.6 571.2,674.5 568.4,672.8 566.1,670.4 564.3,667.7 563.3,664.6 562.9,661.4 563.3,658.1 564.3,655 566.1,652.3 568.4,649.9 571.2,648.2 574.3,647.1 577.5,646.8 580.8,647.1 583.9,648.2 586.7,649.9 589,652.3 590.8,655 591.8,658.1ZM592.2,790 591.8,793.3 590.8,796.4 589,799.1 586.7,801.5 583.9,803.2 580.8,804.3 577.5,804.6 574.3,804.3 571.2,803.2 568.4,801.5 566.1,799.1 564.3,796.4 563.3,793.3 562.9,790 563.3,786.8 564.3,783.7 566.1,781 568.4,778.6 571.2,776.9 574.3,775.8 577.5,775.5 580.8,775.8 583.9,776.9 586.7,778.6 589,781 590.8,783.7 591.8,786.8ZM131.9,607.7 132.2,606.2 133,605 134.3,604.2 135.8,603.9 143.5,603.9 145,604.2 146.3,605 147.1,606.2 147.4,607.7 147.4,615.4 147.1,616.9 146.3,618.2 145,619 143.5,619.3 135.8,619.3 134.3,619 133,618.2 132.2,616.9 131.9,615.4ZM619.8,607.7 620.1,606.2 620.9,605 622.2,604.2 623.7,603.9 631.4,603.9 632.9,604.2 634.2,605 635,606.2 635.3,607.7 635.3,615.4 635,616.9 634.2,618.2 632.9,619 631.4,619.3 623.7,619.3 622.2,619 620.9,618.2 620.1,616.9 619.8,615.4ZM131.9,836 132.2,834.5 133,833.2 134.3,832.4 135.8,832.1 143.5,832.1 145,832.4 146.3,833.2 147.1,834.5 147.4,836 147.4,843.7 147.1,845.2 146.3,846.4 145,847.2 143.5,847.5 135.8,847.5 134.3,847.2 133,846.4 132.2,845.2 131.9,843.7ZM619.8,836 620.1,834.5 620.9,833.2 622.2,832.4 623.7,832.1 631.4,832.1 632.9,832.4 634.2,833.2 635,834.5 635.3,836 635.3,843.7 635,845.2 634.2,846.4 632.9,847.2 631.4,847.5 623.7,847.5 622.2,847.2 620.9,846.4 620.1,845.2 619.8,843.7Z" fill="#d2d2d2" stroke="#6c6c6c" stroke-width="1.45" stroke-linejoin="round" fill-rule="evenodd"/>
<line x1="124.5" y1="539.5" x2="642.5" y2="539.5" stroke="#1c1c1c" stroke-width="0.9"/>
<polygon points="124.5,539.5 132.8,538.0 132.8,541.0" fill="#000"/>
<polygon points="642.5,539.5 634.2,541.0 634.2,538.0" fill="#000"/>
<text x="383.5" y="536.6" font-size="9.5" letter-spacing="0.4" text-anchor="middle">120</text>
<line x1="124.5" y1="536.0" x2="124.5" y2="640.0" stroke="#1c1c1c" stroke-width="0.9"/>
<line x1="642.5" y1="536.0" x2="642.5" y2="640.0" stroke="#1c1c1c" stroke-width="0.9"/>
<line x1="124.5" y1="567.5" x2="154.7" y2="567.5" stroke="#1c1c1c" stroke-width="0.9"/>
<polygon points="124.5,567.5 132.8,566.0 132.8,569.0" fill="#000"/>
<polygon points="154.7,567.5 146.4,569.0 146.4,566.0" fill="#000"/>
<text x="139.0" y="564.6" font-size="9.5" letter-spacing="0.4" text-anchor="middle">6.7</text>
<line x1="154.7" y1="564.0" x2="154.7" y2="605.0" stroke="#1c1c1c" stroke-width="0.9"/>
<line x1="168.0" y1="567.5" x2="210.7" y2="567.5" stroke="#1c1c1c" stroke-width="0.9"/>
<polygon points="168.0,567.5 176.3,566.0 176.3,569.0" fill="#000"/>
<polygon points="210.7,567.5 202.4,569.0 202.4,566.0" fill="#000"/>
<text x="190.0" y="564.6" font-size="9.5" letter-spacing="0.4" text-anchor="middle">10.2</text>
<line x1="168.0" y1="564.0" x2="168.0" y2="591.5" stroke="#1c1c1c" stroke-width="0.9"/>
<line x1="210.7" y1="564.0" x2="210.7" y2="591.5" stroke="#1c1c1c" stroke-width="0.9"/>
<line x1="172.5" y1="584.0" x2="207.2" y2="584.0" stroke="#1c1c1c" stroke-width="0.9"/>
<polygon points="172.5,584.0 180.8,582.5 180.8,585.5" fill="#000"/>
<polygon points="207.2,584.0 198.9,585.5 198.9,582.5" fill="#000"/>
<text x="189.5" y="581.1" font-size="9.5" letter-spacing="0.4" text-anchor="middle">8.2</text>
<line x1="172.5" y1="580.5" x2="172.5" y2="596.5" stroke="#1c1c1c" stroke-width="0.9"/>
<line x1="207.2" y1="580.5" x2="207.2" y2="596.5" stroke="#1c1c1c" stroke-width="0.9"/>
<line x1="96.5" y1="584.0" x2="164.0" y2="584.0" stroke="#1c1c1c" stroke-width="0.9"/>
<polygon points="131.5,584.0 125.0,585.5 125.0,582.5" fill="#000"/>
<polygon points="146.7,584.0 153.2,582.5 153.2,585.5" fill="#000"/>
<text x="105.0" y="581.1" font-size="9.5" letter-spacing="0.4" text-anchor="middle">3.6</text>
<line x1="131.5" y1="580.5" x2="131.5" y2="605.0" stroke="#1c1c1c" stroke-width="0.9"/>
<line x1="146.7" y1="580.5" x2="146.7" y2="605.0" stroke="#1c1c1c" stroke-width="0.9"/>
<line x1="283.4" y1="584.5" x2="354.5" y2="584.5" stroke="#1c1c1c" stroke-width="0.9"/>
<polygon points="283.4,584.5 291.7,583.0 291.7,586.0" fill="#000"/>
<polygon points="354.5,584.5 346.2,586.0 346.2,583.0" fill="#000"/>
<text x="319.0" y="583.1" font-size="9.5" letter-spacing="0.4" text-anchor="middle">16.5</text>
<line x1="283.4" y1="581.0" x2="283.4" y2="602.0" stroke="#1c1c1c" stroke-width="0.9"/>
<line x1="354.5" y1="581.0" x2="354.5" y2="602.0" stroke="#1c1c1c" stroke-width="0.9"/>
<line x1="423.7" y1="584.5" x2="472.8" y2="584.5" stroke="#1c1c1c" stroke-width="0.9"/>
<polygon points="423.7,584.5 432.0,583.0 432.0,586.0" fill="#000"/>
<polygon points="472.8,584.5 464.5,586.0 464.5,583.0" fill="#000"/>
<text x="447.5" y="583.1" font-size="9.5" letter-spacing="0.4" text-anchor="middle">11.4</text>
<line x1="423.7" y1="581.0" x2="423.7" y2="639.0" stroke="#1c1c1c" stroke-width="0.9"/>
<line x1="472.8" y1="581.0" x2="472.8" y2="639.0" stroke="#1c1c1c" stroke-width="0.9"/>
<line x1="553.0" y1="585.5" x2="603.4" y2="585.5" stroke="#1c1c1c" stroke-width="0.9"/>
<polygon points="553.0,585.5 561.3,584.0 561.3,587.0" fill="#000"/>
<polygon points="603.4,585.5 595.1,587.0 595.1,584.0" fill="#000"/>
<text x="577.5" y="583.9" font-size="9.5" letter-spacing="0.4" text-anchor="middle">11.7</text>
<line x1="553.0" y1="582.0" x2="553.0" y2="640.0" stroke="#1c1c1c" stroke-width="0.9"/>
<line x1="603.4" y1="582.0" x2="603.4" y2="640.0" stroke="#1c1c1c" stroke-width="0.9"/>
<line x1="618.5" y1="566.7" x2="677.0" y2="566.7" stroke="#1c1c1c" stroke-width="0.9"/>
<polygon points="635.2,566.7 626.9,568.2 626.9,565.2" fill="#000"/>
<polygon points="642.5,566.7 650.8,565.2 650.8,568.2" fill="#000"/>
<text x="668.0" y="564.6" font-size="9.5" letter-spacing="0.4" text-anchor="middle">1.6</text>
<line x1="635.2" y1="562.5" x2="635.2" y2="609.5" stroke="#1c1c1c" stroke-width="0.9"/>
<line x1="631.5" y1="606.0" x2="684.0" y2="584.0" stroke="#1c1c1c" stroke-width="0.9"/>
<polygon points="638.7,603.1 645.8,598.6 646.9,601.2" fill="#000"/>
<text x="674.0" y="586.9" font-size="9.5" letter-spacing="0.4" text-anchor="middle" transform="rotate(-22.6 674.0 586.9)">R2.5</text>
<line x1="325.5" y1="598.0" x2="325.5" y2="635.0" stroke="#1c1c1c" stroke-width="0.9"/>
<polygon points="325.5,597.5 326.9,605.8 324.1,605.8" fill="#000"/>
<polygon points="325.5,635.5 324.1,627.2 326.9,627.2" fill="#000"/>
<text x="321.4" y="616.0" font-size="9.5" letter-spacing="0.4" text-anchor="middle" transform="rotate(-90 321.4 616.0)">9</text>
<line x1="301.5" y1="596.8" x2="329.0" y2="596.8" stroke="#1c1c1c" stroke-width="0.9"/>
<line x1="206.0" y1="612.7" x2="259.3" y2="659.3" stroke="#1c1c1c" stroke-width="0.9"/>
<polygon points="219.6,624.9 212.4,620.5 214.3,618.3" fill="#000"/>
<polygon points="227.3,632.0 234.5,636.4 232.6,638.6" fill="#000"/>
<text x="254.6" y="652.4" font-size="9.5" letter-spacing="0.4" text-anchor="middle" transform="rotate(41.2 254.6 652.4)">2.3</text>
<line x1="189.6" y1="661.4" x2="254.0" y2="681.4" stroke="#1c1c1c" stroke-width="0.9"/>
<polygon points="213.8,668.9 222.2,670.0 221.3,672.8" fill="#000"/>
<text x="243.5" y="675.6" font-size="9.5" letter-spacing="0.4" text-anchor="middle" transform="rotate(17.5 243.5 675.6)">R5.7</text>
<line x1="94.1" y1="661.0" x2="94.1" y2="790.0" stroke="#1c1c1c" stroke-width="0.9"/>
<polygon points="94.1,660.8 95.5,669.1 92.6,669.1" fill="#000"/>
<polygon points="94.1,790.0 92.6,781.7 95.5,781.7" fill="#000"/>
<text x="91.1" y="725.3" font-size="9.5" letter-spacing="0.4" text-anchor="middle" transform="rotate(-90 91.1 725.3)">30</text>
<line x1="90.7" y1="660.8" x2="185.3" y2="660.8" stroke="#1c1c1c" stroke-width="0.9"/>
<line x1="90.7" y1="790.0" x2="185.3" y2="790.0" stroke="#1c1c1c" stroke-width="0.9"/>
<line x1="64.0" y1="597.0" x2="64.0" y2="854.5" stroke="#1c1c1c" stroke-width="0.9"/>
<polygon points="64.0,597.0 65.5,605.3 62.5,605.3" fill="#000"/>
<polygon points="64.0,854.5 62.5,846.2 65.5,846.2" fill="#000"/>
<text x="60.4" y="725.3" font-size="9.5" letter-spacing="0.4" text-anchor="middle" transform="rotate(-90 60.4 725.3)">60</text>
<line x1="60.0" y1="597.0" x2="131.0" y2="597.0" stroke="#1c1c1c" stroke-width="0.9"/>
<line x1="60.0" y1="854.5" x2="125.0" y2="854.5" stroke="#1c1c1c" stroke-width="0.9"/>
<line x1="107.2" y1="725.3" x2="170.0" y2="725.3" stroke="#1c1c1c" stroke-width="0.9"/>
<polygon points="125.0,725.3 116.7,726.8 116.7,723.8" fill="#000"/>
<polygon points="135.0,725.3 143.3,723.8 143.3,726.8" fill="#000"/>
<text x="161.3" y="722.6" font-size="9.5" letter-spacing="0.4" text-anchor="middle">2.3</text>
<line x1="207.0" y1="772.0" x2="299.4" y2="677.0" stroke="#1c1c1c" stroke-width="0.9"/>
<polygon points="207.0,772.0 211.7,765.0 213.8,767.1" fill="#000"/>
<polygon points="299.4,677.0 294.7,684.0 292.6,681.9" fill="#000"/>
<text x="251.2" y="723.2" font-size="9.5" letter-spacing="0.4" text-anchor="middle" transform="rotate(-45.8 251.2 723.2)">31.1</text>
<line x1="296.7" y1="702.7" x2="359.3" y2="702.7" stroke="#1c1c1c" stroke-width="0.9"/>
<polygon points="314.0,702.7 305.7,704.2 305.7,701.2" fill="#000"/>
<polygon points="324.0,702.7 332.3,701.2 332.3,704.2" fill="#000"/>
<text x="350.0" y="700.4" font-size="9.5" letter-spacing="0.4" text-anchor="middle">2.3</text>
<line x1="324.0" y1="734.1" x2="443.3" y2="734.1" stroke="#1c1c1c" stroke-width="0.9"/>
<polygon points="324.0,734.1 332.3,732.6 332.3,735.6" fill="#000"/>
<polygon points="443.3,734.1 435.0,735.6 435.0,732.6" fill="#000"/>
<text x="383.3" y="731.6" font-size="9.5" letter-spacing="0.4" text-anchor="middle">27.7</text>
<line x1="343.5" y1="789.3" x2="423.7" y2="789.3" stroke="#1c1c1c" stroke-width="0.9"/>
<polygon points="343.5,789.3 351.8,787.8 351.8,790.8" fill="#000"/>
<polygon points="423.7,789.3 415.4,790.8 415.4,787.8" fill="#000"/>
<text x="383.3" y="787.1" font-size="9.5" letter-spacing="0.4" text-anchor="middle">18.6</text>
<line x1="364.4" y1="823.5" x2="402.8" y2="823.5" stroke="#1c1c1c" stroke-width="0.9"/>
<polygon points="364.4,823.5 372.7,822.0 372.7,825.0" fill="#000"/>
<polygon points="402.8,823.5 394.5,825.0 394.5,822.0" fill="#000"/>
<text x="383.3" y="821.2" font-size="9.5" letter-spacing="0.4" text-anchor="middle">8.9</text>
<line x1="364.4" y1="818.7" x2="364.4" y2="827.0" stroke="#1c1c1c" stroke-width="0.9"/>
<line x1="402.8" y1="818.7" x2="402.8" y2="827.0" stroke="#1c1c1c" stroke-width="0.9"/>
<line x1="472.8" y1="674.1" x2="553.0" y2="674.1" stroke="#1c1c1c" stroke-width="0.9"/>
<polygon points="472.8,674.1 481.1,672.6 481.1,675.6" fill="#000"/>
<polygon points="553.0,674.1 544.7,675.6 544.7,672.6" fill="#000"/>
<text x="512.5" y="672.4" font-size="9.5" letter-spacing="0.4" text-anchor="middle">18.6</text>
<line x1="493.7" y1="636.5" x2="532.1" y2="636.5" stroke="#1c1c1c" stroke-width="0.9"/>
<polygon points="493.7,636.5 502.0,635.0 502.0,638.0" fill="#000"/>
<polygon points="532.1,636.5 523.8,638.0 523.8,635.0" fill="#000"/>
<text x="512.0" y="633.8" font-size="9.5" letter-spacing="0.4" text-anchor="middle">8.8</text>
<line x1="493.7" y1="627.0" x2="493.7" y2="640.0" stroke="#1c1c1c" stroke-width="0.9"/>
<line x1="532.1" y1="627.0" x2="532.1" y2="640.0" stroke="#1c1c1c" stroke-width="0.9"/>
<line x1="666.0" y1="610.7" x2="666.0" y2="838.8" stroke="#1c1c1c" stroke-width="0.9"/>
<polygon points="666.0,610.7 667.5,619.0 664.5,619.0" fill="#000"/>
<polygon points="666.0,838.8 664.5,830.5 667.5,830.5" fill="#000"/>
<text x="662.3" y="726.0" font-size="9.5" letter-spacing="0.4" text-anchor="middle" transform="rotate(-90 662.3 726.0)">53.2</text>
<line x1="630.7" y1="610.7" x2="669.3" y2="610.7" stroke="#1c1c1c" stroke-width="0.9"/>
<line x1="627.5" y1="838.8" x2="669.3" y2="838.8" stroke="#1c1c1c" stroke-width="0.9"/>
<line x1="515.5" y1="765.5" x2="607.5" y2="802.0" stroke="#1c1c1c" stroke-width="0.9"/>
<polygon points="564.0,784.6 555.8,782.9 556.8,780.2" fill="#000"/>
<polygon points="591.1,795.5 599.3,797.2 598.3,799.9" fill="#000"/>
<text x="528.2" y="767.5" font-size="9" letter-spacing="0.4" text-anchor="middle" transform="rotate(21.7 528.2 767.5)">Ø6.8</text>
</svg>
<div class="abs cap" style="left:152px">型号：</div><div class="abs cap" style="left:205.5px;letter-spacing:0.75px">OB60120</div>
<div class="abs cap" style="left:308px">米重：</div><div class="abs cap" style="left:363.5px;letter-spacing:2px">4.8kg/m</div>
<div class="abs cap" style="left:467px">壁厚：</div><div class="abs cap" style="left:520.5px;letter-spacing:0.8px">2.3mm</div>
<div class="abs foot">横截面展示</div>
</body></html>
